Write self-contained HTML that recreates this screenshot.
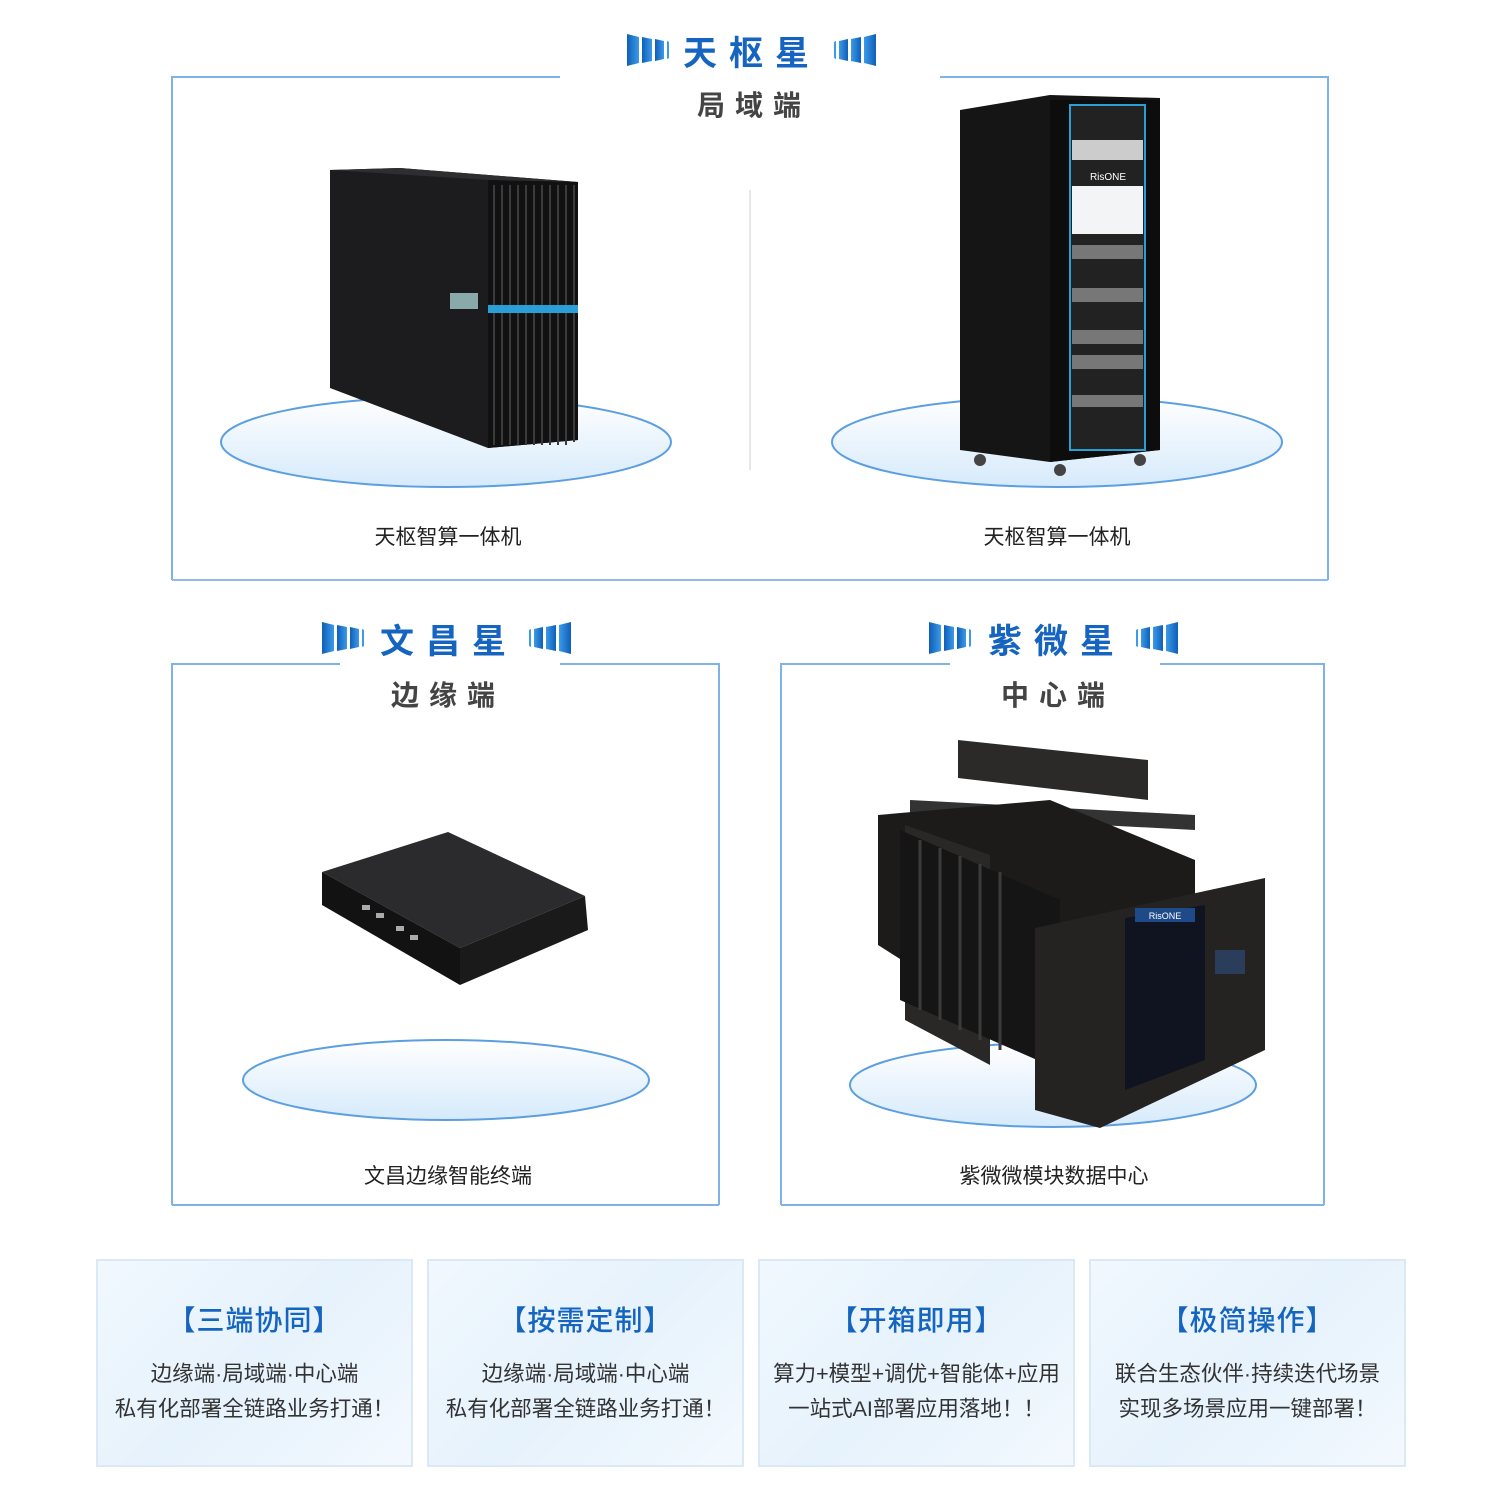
<!DOCTYPE html>
<html><head><meta charset="utf-8"><style>
body{margin:0;width:1500px;height:1501px;background:#fff;position:relative;overflow:hidden;font-family:"Liberation Sans","Noto Sans CJK SC",sans-serif}
.t{position:absolute;white-space:nowrap;text-align:center;transform:translateX(-50%)}
.card{position:absolute;top:1259px;width:313px;height:204px;border:2px solid #dbe9f7;background:linear-gradient(135deg,#f1f8fe,#e6f2fc 50%,#f3f9fe);text-align:center}
.card h3{margin:38px 0 18px;font-size:28px;font-weight:500;color:#1565c0;letter-spacing:1px}
.card p{margin:0;font-size:21.5px;line-height:35px;color:#333}
</style></head><body>
<svg width="1500" height="1501" style="position:absolute;left:0;top:0">
<defs>
<linearGradient id="hl" x1="0" x2="1"><stop offset="0" stop-color="#7fb2e6"/><stop offset="0.6" stop-color="#9cc4ee"/><stop offset="1" stop-color="#9cc4ee" stop-opacity="0"/></linearGradient>
<linearGradient id="pl" x1="0" y1="0" x2="0" y2="1"><stop offset="0" stop-color="#fff"/><stop offset="1" stop-color="#d6eafb"/></linearGradient>
<linearGradient id="ul" x1="0" x2="1"><stop offset="0" stop-color="#1e74c8" stop-opacity="0"/><stop offset="0.5" stop-color="#1e74c8"/><stop offset="1" stop-color="#1e74c8" stop-opacity="0"/></linearGradient>
<linearGradient id="bar" x1="0" x2="1"><stop offset="0" stop-color="#0d5fb8"/><stop offset="1" stop-color="#3d9ae8"/></linearGradient>
<g id="flagL"><polygon points="0,0 12,3 12,29 0,32" fill="url(#bar)"/><polygon points="15,3 25,5 25,27 15,29" fill="url(#bar)"/><polygon points="28,5 37,7 37,25 28,27" fill="url(#bar)"/><polygon points="40,7 42,8 42,24 40,25" fill="#3d9ae8"/></g>
</defs>
<path d="M172,580 V77 H600" stroke="#7fb2e6" stroke-width="2" fill="none"/>
<path d="M1328,580 V77 H900" stroke="#7fb2e6" stroke-width="2" fill="none"/>
<line x1="172" y1="580" x2="1328" y2="580" stroke="#8fbbe9" stroke-width="2"/>
<rect x="560" y="70" width="380" height="14" fill="#fff"/>
<line x1="750" y1="190" x2="750" y2="470" stroke="#e4e8ec" stroke-width="2"/>
<path d="M172,1205 V664 H340" stroke="#7fb2e6" stroke-width="2" fill="none"/>
<path d="M719,1205 V664 H560" stroke="#7fb2e6" stroke-width="2" fill="none"/>
<line x1="172" y1="1205" x2="719" y2="1205" stroke="#7fb2e6" stroke-width="2"/>
<rect x="340" y="658" width="220" height="12" fill="#fff"/>
<path d="M781,1205 V664 H950" stroke="#7fb2e6" stroke-width="2" fill="none"/>
<path d="M1324,1205 V664 H1160" stroke="#7fb2e6" stroke-width="2" fill="none"/>
<line x1="781" y1="1205" x2="1324" y2="1205" stroke="#7fb2e6" stroke-width="2"/>
<use href="#flagL" x="627" y="34"/><use href="#flagL" transform="translate(876,34) scale(-1,1)"/>
<line x1="665" y1="77" x2="835" y2="77" stroke="url(#ul)" stroke-width="2"/>
<use href="#flagL" x="322" y="622"/><use href="#flagL" transform="translate(571,622) scale(-1,1)"/>
<line x1="360" y1="664" x2="535" y2="664" stroke="url(#ul)" stroke-width="2"/>
<use href="#flagL" x="929" y="622"/><use href="#flagL" transform="translate(1178,622) scale(-1,1)"/>
<line x1="967" y1="664" x2="1142" y2="664" stroke="url(#ul)" stroke-width="2"/>
<ellipse cx="446" cy="442" rx="225" ry="45" fill="url(#pl)" stroke="#5c9fe0" stroke-width="2"/>
<ellipse cx="1057" cy="442" rx="225" ry="45" fill="url(#pl)" stroke="#5c9fe0" stroke-width="2"/>
<ellipse cx="446" cy="1080" rx="203" ry="40" fill="url(#pl)" stroke="#5c9fe0" stroke-width="2"/>
<ellipse cx="1053" cy="1085" rx="203" ry="42" fill="url(#pl)" stroke="#5c9fe0" stroke-width="2"/>
<polygon points="330,170 400,168 578,182 578,440 488,448 330,388" fill="#1c1c1e"/>
<polygon points="330,170 400,168 578,182 488,180" fill="#2e2e30"/>
<polygon points="488,180 578,182 578,440 488,448" fill="#111"/>
<g stroke="#3a3a3c" stroke-width="2"><path d="M494,185V445M502,185V445M510,185V445M518,185V445M526,185V445M534,185V445M542,185V445M550,185V445M558,185V445M566,185V445M574,185V442"/></g>
<rect x="488" y="305" width="90" height="8" fill="#2a9fd6"/>
<rect x="450" y="293" width="28" height="16" fill="#8aa"/>
<polygon points="960,110 1050,95 1160,98 1160,450 1050,462 960,450" fill="#151515"/>
<polygon points="1050,100 1160,100 1160,450 1050,462" fill="#0d0d0d"/>
<rect x="1070" y="105" width="75" height="345" fill="#222" stroke="#2a9fd6" stroke-width="2"/>
<rect x="1072" y="140" width="71" height="20" fill="#ccc"/>
<rect x="1072" y="186" width="71" height="48" fill="#f2f4f6"/>
<text x="1108" y="180" font-size="10" fill="#fff" text-anchor="middle">RisONE</text>
<g fill="#777"><rect x="1072" y="245" width="71" height="14"/><rect x="1072" y="288" width="71" height="14"/><rect x="1072" y="330" width="71" height="14"/><rect x="1072" y="355" width="71" height="14"/><rect x="1072" y="395" width="71" height="12"/></g>
<circle cx="980" cy="460" r="6" fill="#444"/><circle cx="1060" cy="470" r="6" fill="#444"/><circle cx="1140" cy="460" r="6" fill="#444"/>
<polygon points="322,872 448,832 585,896 460,948" fill="#2b2b2d"/>
<polygon points="322,872 460,948 460,985 322,905" fill="#121212"/>
<polygon points="460,948 585,896 588,930 460,985" fill="#1a1a1a"/>
<g fill="#aaa"><rect x="362" y="905" width="8" height="5"/><rect x="376" y="913" width="8" height="5"/><rect x="396" y="926" width="8" height="5"/><rect x="410" y="935" width="8" height="5"/></g>
<polygon points="958,740 1148,760 1148,800 958,778" fill="#2c2a28"/>
<polygon points="910,800 1195,815 1195,830 910,815" fill="#333"/>
<polygon points="878,815 1050,800 1195,860 1195,1000 1060,1060 878,945" fill="#1c1b1a"/>
<polygon points="905,825 990,855 990,1065 905,1020" fill="#2a2826"/>
<polygon points="900,830 1060,900 1060,1070 900,1000" fill="#151515"/>
<g stroke="#3c3b3a" stroke-width="3"><path d="M920,840V1010M940,848V1020M960,856V1030M980,864V1040M1000,872V1050"/></g>
<polygon points="1035,928 1265,878 1265,1050 1100,1128 1035,1110" fill="#242322"/>
<polygon points="1125,918 1205,905 1205,1060 1125,1090" fill="#0f1420"/>
<rect x="1135" y="908" width="60" height="14" fill="#1f4a8a"/>
<text x="1165" y="919" font-size="9" fill="#fff" text-anchor="middle">RisONE</text>
<rect x="1215" y="950" width="30" height="24" fill="#2a3d5a"/>
</svg>
<div class="t" style="left:752px;top:26px;font-size:34px;font-weight:bold;color:#1565c0;letter-spacing:12px">天枢星</div>
<div class="t" style="left:754px;top:84px;font-size:28px;font-weight:bold;color:#444;letter-spacing:10px">局域端</div>
<div class="t" style="left:449px;top:614px;font-size:34px;font-weight:bold;color:#1565c0;letter-spacing:12px">文昌星</div>
<div class="t" style="left:448px;top:674px;font-size:28px;font-weight:bold;color:#444;letter-spacing:10px">边缘端</div>
<div class="t" style="left:1057px;top:614px;font-size:34px;font-weight:bold;color:#1565c0;letter-spacing:12px">紫微星</div>
<div class="t" style="left:1058px;top:674px;font-size:28px;font-weight:bold;color:#444;letter-spacing:10px">中心端</div>
<div class="t" style="left:448px;top:521px;font-size:21px;color:#222">天枢智算一体机</div>
<div class="t" style="left:1057px;top:521px;font-size:21px;color:#222">天枢智算一体机</div>
<div class="t" style="left:448px;top:1160px;font-size:21px;color:#222">文昌边缘智能终端</div>
<div class="t" style="left:1054px;top:1160px;font-size:21px;color:#222">紫微微模块数据中心</div>
<div class="card" style="left:96px"><h3>【三端协同】</h3><p>边缘端·局域端·中心端<br>私有化部署全链路业务打通！</p></div>
<div class="card" style="left:427px"><h3>【按需定制】</h3><p>边缘端·局域端·中心端<br>私有化部署全链路业务打通！</p></div>
<div class="card" style="left:758px"><h3>【开箱即用】</h3><p>算力+模型+调优+智能体+应用<br>一站式AI部署应用落地！！</p></div>
<div class="card" style="left:1089px"><h3>【极简操作】</h3><p>联合生态伙伴·持续迭代场景<br>实现多场景应用一键部署！</p></div>
</body></html>
